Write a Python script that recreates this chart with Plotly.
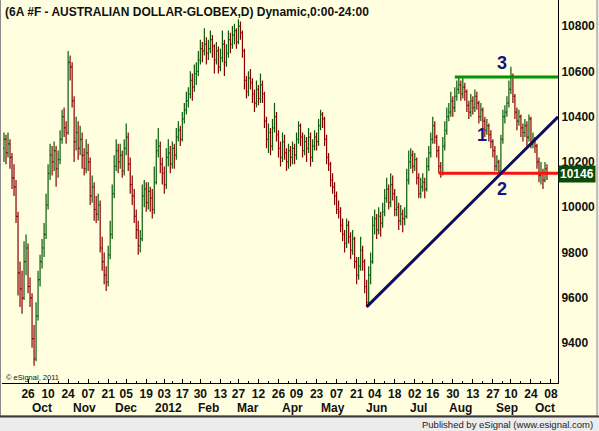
import pandas as pd
import plotly.graph_objects as go

# trading calendar (holidays removed, as on the eSignal axis)
FIRST_DAY = "2011-09-08"
AXIS_END = "2012-10-12"
TICK_START = "2011-09-26"
HOLIDAYS = ["2011-11-24", "2011-12-26", "2012-01-02", "2012-01-16", "2012-02-20",
            "2012-04-06", "2012-05-28", "2012-07-04", "2012-09-03"]

# daily 6A bars (price x 10000)
OPEN = [
    10260, 10300, 10240, 10280, 10220, 10130, 10090, 9960,
    9710, 9640, 9600, 9760, 9820, 9650, 9600, 9420,
    9330, 9520, 9680, 9760, 9820, 9880, 10010, 10150,
    10230, 10200, 10250, 10170, 10210, 10300, 10400, 10350,
    10330, 10640, 10620, 10470, 10290, 10330, 10260, 10300,
    10230, 10170, 10240, 10200, 10050, 10090, 9990, 9970,
    10010, 9820, 9760, 9700, 9670, 9790, 9880, 10060,
    10180, 10250, 10200, 10230, 10160, 10260, 10310, 10190,
    10100, 10050, 9960, 9900, 9830, 9860, 10050, 10080,
    10020, 10070, 10040, 9990, 10110, 10250, 10270, 10190,
    10150, 10100, 10220, 10240, 10190, 10260, 10230, 10310,
    10340, 10300, 10390, 10430, 10470, 10500, 10560, 10530,
    10590, 10600, 10650, 10700, 10690, 10720, 10680, 10700,
    10740, 10710, 10650, 10690, 10620, 10660, 10720, 10640,
    10680, 10740, 10720, 10760, 10780, 10730, 10800, 10770,
    10690, 10560, 10510, 10570, 10550, 10500, 10460, 10520,
    10480, 10540, 10500, 10380, 10300, 10330, 10270, 10350,
    10400, 10320, 10260, 10220, 10290, 10240, 10200, 10250,
    10220, 10260, 10230, 10300, 10360, 10310, 10250, 10290,
    10260, 10310, 10220, 10270, 10310, 10290, 10360, 10410,
    10390, 10300, 10220, 10190, 10120, 10090, 10050, 9990,
    9980, 9920, 9880, 9840, 9920, 9870, 9810, 9860,
    9760, 9700, 9740, 9810, 9760, 9650, 9580, 9700,
    9760, 9920, 9950, 9900, 9960, 9930, 9980, 10040,
    10080, 10020, 10100, 10060, 9990, 10000, 9940, 9970,
    9950, 9960, 10120, 10200, 10230, 10180, 10210, 10130,
    10060, 10090, 10110, 10080, 10180, 10240, 10300, 10360,
    10310, 10250, 10180, 10150, 10270, 10340, 10400, 10420,
    10470, 10440, 10490, 10520, 10540, 10500, 10530, 10510,
    10450, 10420, 10470, 10440, 10490, 10460, 10400, 10430,
    10380, 10340, 10360, 10320, 10290, 10250, 10180, 10200,
    10160, 10300, 10400, 10420, 10460, 10520, 10580, 10490,
    10420, 10380, 10400, 10350, 10330, 10360, 10310, 10390,
    10280, 10300, 10270, 10200, 10140, 10150, 10120, 10170,
]
HIGH = [
    10330, 10320, 10330, 10300, 10240, 10190, 10120, 9980,
    9760, 9720, 9850, 9880, 9840, 9690, 9620, 9480,
    9580, 9720, 9790, 9860, 9930, 10060, 10190, 10280,
    10270, 10290, 10270, 10250, 10340, 10430, 10440, 10380,
    10690, 10670, 10640, 10490, 10400, 10380, 10360, 10330,
    10260, 10300, 10280, 10220, 10140, 10110, 10050, 10060,
    10030, 9870, 9800, 9740, 9830, 9940, 10100, 10230,
    10300, 10280, 10280, 10250, 10300, 10370, 10330, 10220,
    10140, 10080, 9990, 9940, 9900, 10100, 10120, 10110,
    10110, 10090, 10080, 10180, 10300, 10350, 10290, 10220,
    10180, 10260, 10300, 10270, 10290, 10280, 10350, 10380,
    10360, 10420, 10460, 10510, 10530, 10600, 10590, 10630,
    10640, 10690, 10740, 10730, 10790, 10750, 10740, 10780,
    10760, 10720, 10730, 10710, 10700, 10780, 10740, 10720,
    10780, 10770, 10800, 10810, 10790, 10830, 10820, 10780,
    10700, 10580, 10600, 10610, 10570, 10520, 10560, 10540,
    10590, 10560, 10510, 10400, 10370, 10350, 10390, 10460,
    10420, 10340, 10290, 10330, 10320, 10260, 10280, 10270,
    10290, 10280, 10330, 10380, 10370, 10330, 10320, 10310,
    10350, 10330, 10300, 10340, 10330, 10390, 10430, 10420,
    10400, 10320, 10240, 10200, 10150, 10110, 10070, 10030,
    10000, 9950, 9900, 9950, 9940, 9890, 9900, 9870,
    9780, 9780, 9870, 9830, 9770, 9680, 9740, 9800,
    9960, 9990, 9970, 10000, 9980, 10020, 10080, 10130,
    10100, 10150, 10140, 10080, 10050, 10020, 10010, 9990,
    10000, 10170, 10250, 10260, 10250, 10240, 10220, 10150,
    10130, 10150, 10130, 10220, 10270, 10330, 10400, 10380,
    10320, 10270, 10200, 10310, 10380, 10440, 10460, 10510,
    10490, 10530, 10560, 10580, 10560, 10570, 10550, 10520,
    10470, 10500, 10490, 10520, 10510, 10470, 10460, 10440,
    10400, 10390, 10370, 10340, 10300, 10270, 10230, 10210,
    10320, 10430, 10450, 10490, 10560, 10620, 10590, 10500,
    10440, 10430, 10410, 10370, 10390, 10380, 10410, 10400,
    10330, 10310, 10280, 10220, 10200, 10170, 10200, 10190,
]
LOW = [
    10200, 10190, 10220, 10170, 10080, 10050, 9930, 9610,
    9560, 9530, 9590, 9700, 9620, 9560, 9380, 9300,
    9320, 9500, 9650, 9730, 9780, 9860, 9990, 10120,
    10140, 10160, 10090, 10130, 10190, 10280, 10310, 10280,
    10320, 10560, 10440, 10200, 10250, 10210, 10230, 10170,
    10140, 10150, 10160, 10010, 10020, 9940, 9930, 9940,
    9800, 9720, 9660, 9630, 9650, 9770, 9860, 10040,
    10160, 10150, 10170, 10130, 10140, 10230, 10160, 10060,
    10010, 9930, 9860, 9790, 9800, 9850, 10000, 9980,
    9990, 9980, 9950, 9970, 10100, 10220, 10150, 10100,
    10060, 10080, 10180, 10150, 10170, 10170, 10210, 10290,
    10270, 10290, 10370, 10410, 10440, 10480, 10470, 10510,
    10540, 10580, 10630, 10640, 10670, 10630, 10650, 10680,
    10660, 10590, 10630, 10590, 10600, 10640, 10580, 10620,
    10660, 10680, 10700, 10720, 10700, 10720, 10740, 10660,
    10520, 10480, 10490, 10520, 10460, 10420, 10440, 10450,
    10460, 10460, 10350, 10260, 10240, 10230, 10250, 10330,
    10290, 10220, 10180, 10200, 10210, 10160, 10170, 10180,
    10190, 10190, 10210, 10280, 10270, 10220, 10230, 10200,
    10240, 10180, 10200, 10250, 10250, 10270, 10340, 10350,
    10270, 10190, 10160, 10090, 10060, 10010, 9970, 9950,
    9890, 9850, 9800, 9820, 9840, 9770, 9790, 9730,
    9660, 9680, 9720, 9720, 9620, 9560, 9570, 9660,
    9750, 9880, 9860, 9880, 9870, 9910, 9960, 10020,
    9990, 10000, 10030, 9960, 9960, 9900, 9920, 9890,
    9920, 9950, 10100, 10170, 10150, 10160, 10100, 10040,
    10040, 10070, 10040, 10070, 10160, 10220, 10280, 10280,
    10220, 10150, 10130, 10140, 10250, 10320, 10380, 10400,
    10400, 10420, 10470, 10500, 10470, 10480, 10470, 10420,
    10390, 10400, 10410, 10420, 10430, 10370, 10380, 10350,
    10310, 10320, 10290, 10260, 10220, 10160, 10160, 10140,
    10150, 10280, 10370, 10400, 10440, 10500, 10460, 10390,
    10340, 10360, 10310, 10290, 10310, 10270, 10290, 10260,
    10260, 10240, 10170, 10110, 10100, 10080, 10110, 10120,
]
CLOSE = [
    10300, 10240, 10280, 10220, 10130, 10090, 9960, 9710,
    9640, 9600, 9760, 9820, 9650, 9600, 9420, 9330,
    9520, 9680, 9760, 9820, 9880, 10010, 10150, 10230,
    10200, 10250, 10170, 10210, 10300, 10400, 10350, 10330,
    10640, 10620, 10470, 10290, 10330, 10260, 10300, 10230,
    10170, 10240, 10200, 10050, 10090, 9990, 9970, 10010,
    9820, 9760, 9700, 9670, 9790, 9880, 10060, 10180,
    10250, 10200, 10230, 10160, 10260, 10310, 10190, 10100,
    10050, 9960, 9900, 9830, 9860, 10050, 10080, 10020,
    10070, 10040, 9990, 10110, 10250, 10270, 10190, 10150,
    10100, 10220, 10240, 10190, 10260, 10230, 10310, 10340,
    10300, 10390, 10430, 10470, 10500, 10560, 10530, 10590,
    10600, 10650, 10700, 10690, 10720, 10680, 10700, 10740,
    10710, 10650, 10690, 10620, 10660, 10720, 10640, 10680,
    10740, 10720, 10760, 10780, 10730, 10800, 10770, 10690,
    10560, 10510, 10570, 10550, 10500, 10460, 10520, 10480,
    10540, 10500, 10380, 10300, 10330, 10270, 10350, 10400,
    10320, 10260, 10220, 10290, 10240, 10200, 10250, 10220,
    10260, 10230, 10300, 10360, 10310, 10250, 10290, 10260,
    10310, 10220, 10270, 10310, 10290, 10360, 10410, 10390,
    10300, 10220, 10190, 10120, 10090, 10050, 9990, 9980,
    9920, 9880, 9840, 9920, 9870, 9810, 9860, 9760,
    9700, 9740, 9810, 9760, 9650, 9580, 9700, 9760,
    9920, 9950, 9900, 9960, 9930, 9980, 10040, 10080,
    10020, 10100, 10060, 9990, 10000, 9940, 9970, 9950,
    9960, 10120, 10200, 10230, 10180, 10210, 10130, 10060,
    10090, 10110, 10080, 10180, 10240, 10300, 10360, 10310,
    10250, 10180, 10150, 10270, 10340, 10400, 10420, 10470,
    10440, 10490, 10520, 10540, 10500, 10530, 10510, 10450,
    10420, 10470, 10440, 10490, 10460, 10400, 10430, 10380,
    10340, 10360, 10320, 10290, 10250, 10180, 10200, 10160,
    10300, 10400, 10420, 10460, 10520, 10580, 10490, 10420,
    10380, 10400, 10350, 10330, 10360, 10310, 10390, 10280,
    10300, 10270, 10200, 10140, 10150, 10120, 10170, 10146,
]

Y_TICKS = [9400, 9600, 9800, 10000, 10200, 10400, 10600, 10800]

# drawn studies
RESIST_LEVEL, RESIST_FROM = 10575, "2012-07-31"
SUPPORT_LEVEL, SUPPORT_FROM = 10150, "2012-07-19"
TREND_FROM, TREND_THRU = "2012-05-29", "2012-08-30"
WAVE_TEXT = ["1", "2", "3"]
WAVE_X = [226.5, 236.5, 236.5]
WAVE_Y = [10320, 10080, 10635]

TITLE = "(6A #F - AUSTRALIAN DOLLAR-GLOBEX,D) Dynamic,0:00-24:00"
FONT = "Liberation Sans, Arial, sans-serif"
CREAM = "#FFFFE0"
UP, DOWN = "#0a5c0a", "#8a0000"

# px -> paper helpers (plot area is x 2..558, y 0..383)
def px(x):
    return (x - 2) / 556.0

def py(y):
    return (383 - y) / 383.0

days = pd.bdate_range(FIRST_DAY, AXIS_END, freq="C", holidays=HOLIDAYS)
origin = days.get_loc(pd.Timestamp(TICK_START))
pos = [i - origin for i in range(len(days))]
x = pos[:len(CLOSE)]
where = {d.strftime("%Y-%m-%d"): p for p, d in zip(pos, days)}
x_max = 264.5

# biweekly labelled ticks, weekly minor ticks
start = pd.Timestamp(TICK_START)
major_x, major_t, minor_x, seen = [], [], [], set()
for p, d in zip(pos, days):
    wk = (d - start).days // 7
    if wk < 0 or wk in seen:
        continue
    seen.add(wk)
    if wk % 2 == 0:
        major_x.append(p)
        major_t.append(d.strftime("%d"))
    else:
        minor_x.append(p)

months, prev = [], None
for p, d in zip(pos, days):
    key = (d.year, d.month)
    if key != prev and d >= pd.Timestamp("2011-10-01"):
        months.append((p + 2, "2012" if d.month == 1 else d.strftime("%b")))
    prev = key

fig = go.Figure()
fig.add_trace(go.Ohlc(
    x=x, open=OPEN, high=HIGH, low=LOW, close=CLOSE,
    increasing_line_color=UP, decreasing_line_color=DOWN,
    line_width=1.2, tickwidth=0.5, hoverinfo="skip", showlegend=False,
))

# trend line from the June low through the late-August low
xa, xb = where[TREND_FROM], where[TREND_THRU]
ya, yb = LOW[x.index(xa)], LOW[x.index(xb)]
slope = (yb - ya) / (xb - xa)

shapes = [
    dict(type="rect", xref="paper", yref="paper", x0=px(0.5), x1=px(597), y0=py(416), y1=1.01,
         fillcolor=CREAM, line=dict(color="#8a8a8a", width=1), layer="below"),
    dict(type="line", xref="paper", yref="paper", x0=px(0), x1=px(599), y0=py(416.5), y1=py(416.5),
         line=dict(color="#3a3a3a", width=2)),
    dict(type="line", x0=where[RESIST_FROM], x1=x_max, y0=RESIST_LEVEL, y1=RESIST_LEVEL,
         line=dict(color="#009600", width=3)),
    dict(type="line", x0=where[SUPPORT_FROM], x1=x_max, y0=SUPPORT_LEVEL, y1=SUPPORT_LEVEL,
         line=dict(color="#ff1010", width=3)),
    dict(type="line", x0=xa, x1=x_max, y0=ya, y1=ya + slope * (x_max - xa),
         line=dict(color="#0c0c5e", width=3)),
]

annotations = [
    dict(text=TITLE, xref="paper", yref="paper", x=px(3), y=py(3), xanchor="left", yanchor="top",
         showarrow=False, font=dict(family=FONT, size=12, color="#111111", weight="bold")),
    dict(text="\u00a9 eSignal, 2011", xref="paper", yref="paper", x=px(4), y=py(377),
         xanchor="left", yanchor="middle", showarrow=False,
         font=dict(family=FONT, size=7.5, color="#111111")),
    dict(text="Published by eSignal (www.esignal.com)", xref="paper", yref="paper",
         x=px(595), y=py(424), xanchor="right", yanchor="middle", showarrow=False,
         font=dict(family=FONT, size=9.5, color="#222222")),
    dict(text=str(CLOSE[-1]), xref="paper", yref="y", x=1.0, y=CLOSE[-1], xanchor="left",
         yanchor="middle", showarrow=False, bgcolor="#0b4a0b", borderpad=1,
         font=dict(family=FONT, size=12, color="white", weight="bold")),
]
for mx, mt in months:
    annotations.append(dict(text=mt, x=mx, xref="x", yref="paper", y=py(408), yanchor="middle",
                            showarrow=False,
                            font=dict(family=FONT, size=12, color="#111111", weight="bold")))
for t, wx, wy in zip(WAVE_TEXT, WAVE_X, WAVE_Y):
    annotations.append(dict(text=t, x=wx, y=wy, showarrow=False,
                            font=dict(family=FONT, size=18, color="#14147a", weight="bold")))

fig.update_layout(
    width=599, height=431,
    margin=dict(l=2, r=41, t=0, b=48),
    paper_bgcolor="#ECECEC", plot_bgcolor=CREAM,
    shapes=shapes, annotations=annotations,
    xaxis=dict(
        range=[-13, x_max], rangeslider=dict(visible=False),
        tickmode="array", tickvals=major_x, ticktext=major_t,
        ticks="inside", ticklen=4, tickcolor="black",
        minor=dict(tickmode="array", tickvals=minor_x, ticks="inside", ticklen=2, tickcolor="black"),
        showline=True, linecolor="black", linewidth=1,
        showgrid=False, zeroline=False,
        tickfont=dict(family=FONT, size=12, color="#111111", weight="bold"),
    ),
    yaxis=dict(
        side="right", range=[9224, 10915],
        tickmode="array", tickvals=Y_TICKS, ticktext=[str(v) for v in Y_TICKS], ticks="",
        showline=True, linecolor="black", linewidth=1,
        showgrid=False, zeroline=False,
        tickfont=dict(family=FONT, size=12, color="#111111", weight="bold"),
    ),
)

# the page's default 8px body margin would shift the 599x431 figure off the window
fig.write_html("out.html", config={"displayModeBar": False},
               post_script="document.body.style.margin = '0';")
